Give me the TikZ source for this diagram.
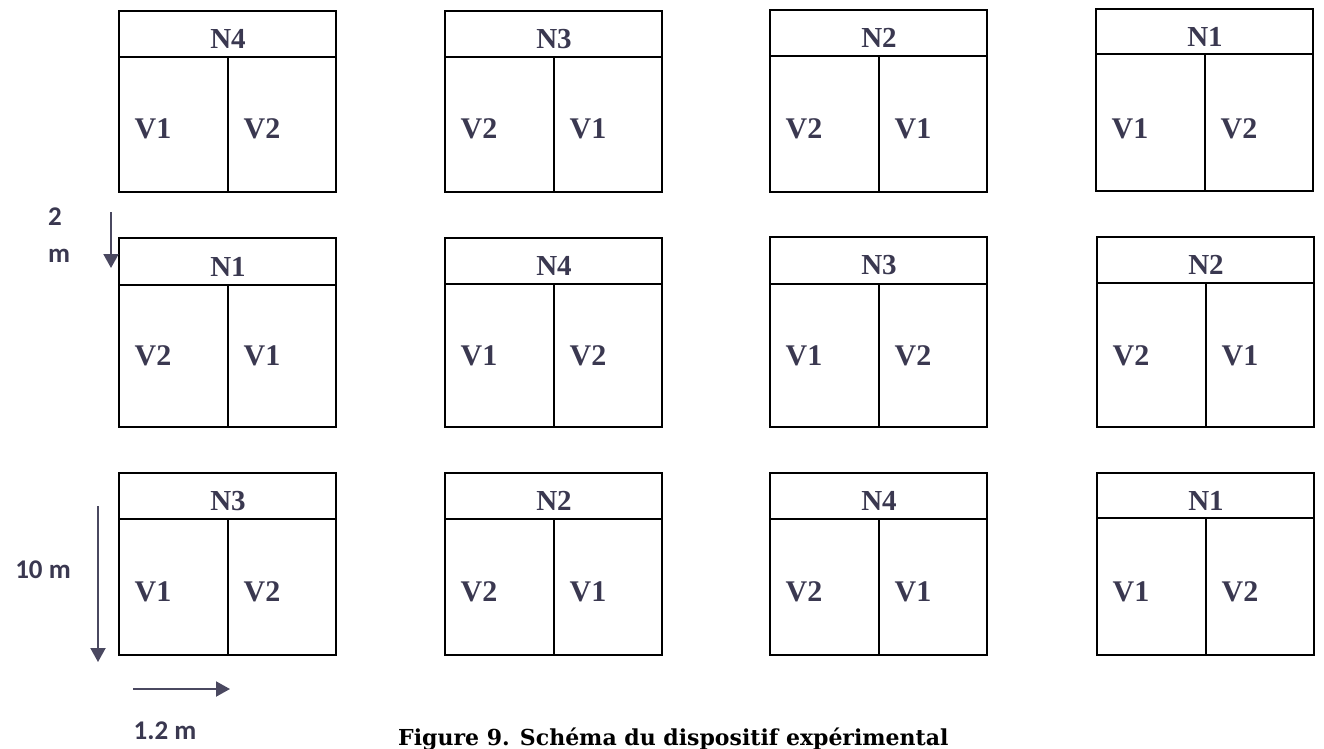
\documentclass[tikz,border=0pt]{standalone}
\usepackage{fontspec}
\setmainfont{Liberation Serif}
\newfontfamily\carlitofont{Carlito}
\newfontfamily\capfont{DejaVu Serif}
\usetikzlibrary{arrows.meta}
\definecolor{inkc}{HTML}{3A3850}
\definecolor{arrc}{HTML}{4A4860}
\tikzset{
  plotline/.style={draw=black, line width=1.6pt},
  ntext/.style={text=inkc, font=\fontsize{29}{31}\selectfont\bfseries, inner sep=0pt},
  vtext/.style={text=inkc, font=\fontsize{30}{32}\selectfont\bfseries, inner sep=0pt},
  dimtext/.style={text=inkc, font=\carlitofont\fontsize{27}{29}\selectfont\bfseries, inner sep=0pt},
  dimarrow/.style={draw=arrc, line width=2pt, -{Triangle[width=15pt,length=14pt]}},
  captext/.style={text=black, font=\capfont\fontsize{22}{24}\selectfont\bfseries, inner sep=0pt, anchor=base west}
}
% \plotbox{name}{left}{top}{header}{bottom}{N}{Vleft}{Vright}{vy}
\newcommand{\plotbox}[9]{%
  \draw[plotline] (#2,#3) rectangle (#2+217,#5);
  \draw[plotline] (#2,#4) -- (#2+217,#4);
  \draw[plotline] (#2+109,#4) -- (#2+109,#5);
  \node[ntext] (#1n) at (#2+109,{(#3+#4)/2+5}) {#6};
  \node[vtext] (#1a) at (#2+34,#9) {#7};
  \node[vtext] (#1b) at (#2+143,#9) {#8};
}
\begin{document}
\begin{tikzpicture}[x=1pt,y=-1pt]
\useasboundingbox (0,0) rectangle (1324,748);
% row 1
\plotbox{p11}{119}{11}{57}{192}{N4}{V1}{V2}{129}
\plotbox{p12}{445}{11}{57}{192}{N3}{V2}{V1}{129}
\plotbox{p13}{770}{10}{56}{192}{N2}{V2}{V1}{129}
\plotbox{p14}{1096}{9}{54}{191}{N1}{V1}{V2}{129}
% row 2
\plotbox{p21}{119}{238}{285}{427}{N1}{V2}{V1}{356}
\plotbox{p22}{445}{238}{284}{427}{N4}{V1}{V2}{356}
\plotbox{p23}{770}{237}{284}{427}{N3}{V1}{V2}{356}
\plotbox{p24}{1097}{237}{283}{427}{N2}{V2}{V1}{356}
% row 3
\plotbox{p31}{119}{473}{519}{655}{N3}{V1}{V2}{592}
\plotbox{p32}{445}{473}{519}{655}{N2}{V2}{V1}{592}
\plotbox{p33}{770}{473}{519}{655}{N4}{V2}{V1}{592}
\plotbox{p34}{1097}{473}{518}{655}{N1}{V1}{V2}{592}
% dimension arrows
\coordinate (a1s) at (111,212);
\coordinate (a1e) at (111,268);
\draw[dimarrow] (a1s) -- (a1e);
\node[dimtext] (d2) at (55,217) {2};
\node[dimtext] (dm) at (59,256) {m};
\coordinate (a2s) at (98,506);
\coordinate (a2e) at (98,662);
\draw[dimarrow] (a2s) -- (a2e);
\node[dimtext] (d10) at (43,570) {10 m};
\coordinate (a3s) at (133,689);
\coordinate (a3e) at (230,689);
\draw[dimarrow] (a3s) -- (a3e);
\node[dimtext] (d12) at (165,731) {1.2 m};
% caption
\node[captext] (cap) at (398,745) {Figure 9. Schéma du dispositif expérimental};
\end{tikzpicture}
\end{document}
